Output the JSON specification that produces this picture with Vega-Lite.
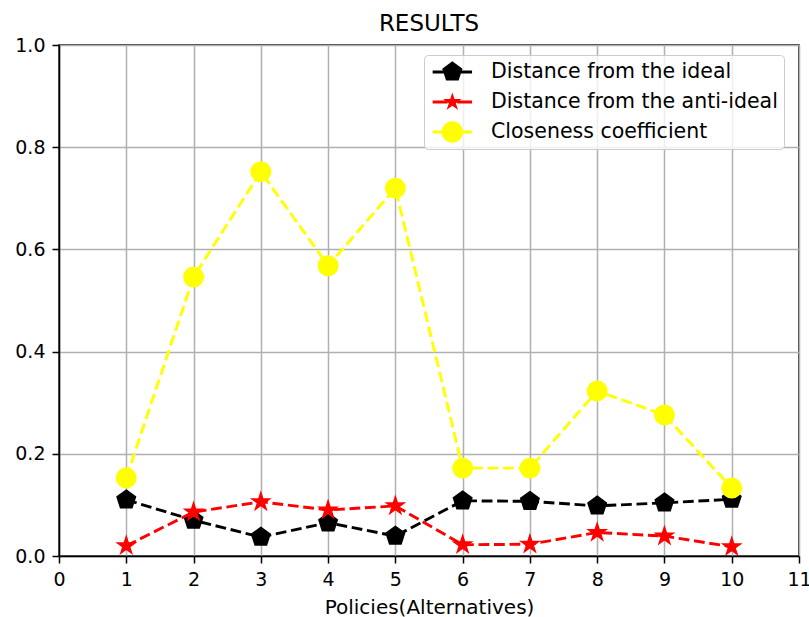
{
  "$schema": "https://vega.github.io/schema/vega-lite/v6.json",
  "width": 740,
  "height": 511,
  "autosize": {"type": "none"},
  "padding": {"left": 59, "top": 45, "right": 10, "bottom": 61},
  "background": "white",
  "title": {"text": "RESULTS", "fontSize": 23, "font": "DejaVu Sans", "fontWeight": "normal", "color": "black", "anchor": "middle", "offset": 0},
  "config": {
    "font": "DejaVu Sans",
    "view": {"stroke": "black", "strokeWidth": 1.5},
    "axis": {
      "domainColor": "black", "domainWidth": 1.5,
      "tickColor": "black", "tickWidth": 1.5, "tickSize": 7,
      "labelColor": "black", "labelFontSize": 19, "labelFont": "DejaVu Sans", "labelPadding": 7,
      "titleColor": "black", "titleFontSize": 20, "titleFont": "DejaVu Sans", "titleFontWeight": "normal",
      "gridColor": "#b0b0b0", "gridWidth": 1.5
    }
  },
  "data": {
    "values": [
      {"policy": 1, "series": "Distance from the ideal", "value": 0.110},
      {"policy": 2, "series": "Distance from the ideal", "value": 0.070},
      {"policy": 3, "series": "Distance from the ideal", "value": 0.037},
      {"policy": 4, "series": "Distance from the ideal", "value": 0.065},
      {"policy": 5, "series": "Distance from the ideal", "value": 0.039},
      {"policy": 6, "series": "Distance from the ideal", "value": 0.108},
      {"policy": 7, "series": "Distance from the ideal", "value": 0.107},
      {"policy": 8, "series": "Distance from the ideal", "value": 0.098},
      {"policy": 9, "series": "Distance from the ideal", "value": 0.104},
      {"policy": 10, "series": "Distance from the ideal", "value": 0.111},
      {"policy": 1, "series": "Distance from the anti-ideal", "value": 0.020},
      {"policy": 2, "series": "Distance from the anti-ideal", "value": 0.086},
      {"policy": 3, "series": "Distance from the anti-ideal", "value": 0.106},
      {"policy": 4, "series": "Distance from the anti-ideal", "value": 0.090},
      {"policy": 5, "series": "Distance from the anti-ideal", "value": 0.098},
      {"policy": 6, "series": "Distance from the anti-ideal", "value": 0.022},
      {"policy": 7, "series": "Distance from the anti-ideal", "value": 0.023},
      {"policy": 8, "series": "Distance from the anti-ideal", "value": 0.046},
      {"policy": 9, "series": "Distance from the anti-ideal", "value": 0.039},
      {"policy": 10, "series": "Distance from the anti-ideal", "value": 0.018},
      {"policy": 1, "series": "Closeness coefficient", "value": 0.153},
      {"policy": 2, "series": "Closeness coefficient", "value": 0.546},
      {"policy": 3, "series": "Closeness coefficient", "value": 0.752},
      {"policy": 4, "series": "Closeness coefficient", "value": 0.568},
      {"policy": 5, "series": "Closeness coefficient", "value": 0.720},
      {"policy": 6, "series": "Closeness coefficient", "value": 0.172},
      {"policy": 7, "series": "Closeness coefficient", "value": 0.172},
      {"policy": 8, "series": "Closeness coefficient", "value": 0.323},
      {"policy": 9, "series": "Closeness coefficient", "value": 0.276},
      {"policy": 10, "series": "Closeness coefficient", "value": 0.133}
    ]
  },
  "encoding": {
    "x": {"field": "policy", "type": "quantitative", "scale": {"domain": [0, 11], "nice": false, "zero": false},
          "axis": {"values": [0,1,2,3,4,5,6,7,8,9,10,11], "title": "Policies(Alternatives)", "titlePadding": 8, "labelFlush": false}},
    "y": {"field": "value", "type": "quantitative", "scale": {"domain": [0, 1], "nice": false},
          "axis": {"values": [0, 0.2, 0.4, 0.6, 0.8, 1.0], "format": ".1f", "title": null, "labelFlush": false}}
  },
  "layer": [
    {"transform": [{"filter": "datum.series === 'Distance from the ideal'"}],
     "mark": {"type": "line", "color": "black", "strokeWidth": 2.9, "strokeDash": [10.8, 4.7]}},
    {"transform": [{"filter": "datum.series === 'Distance from the ideal'"}],
     "mark": {"type": "point", "filled": true, "opacity": 1, "fill": "black", "stroke": "black", "strokeWidth": 1.5, "size": 376,
              "shape": "M0,-1L0.951,-0.309L0.588,0.809L-0.588,0.809L-0.951,-0.309Z"}},
    {"transform": [{"filter": "datum.series === 'Distance from the anti-ideal'"}],
     "mark": {"type": "line", "color": "#ff0000", "strokeWidth": 2.9, "strokeDash": [10.8, 4.7]}},
    {"transform": [{"filter": "datum.series === 'Distance from the anti-ideal'"}],
     "mark": {"type": "point", "filled": true, "opacity": 1, "fill": "#ff0000", "stroke": "#ff0000", "strokeWidth": 1.5, "size": 330,
              "shape": "M0,-1L0.2245,-0.309L0.951,-0.309L0.363,0.118L0.588,0.809L0,0.382L-0.588,0.809L-0.363,0.118L-0.951,-0.309L-0.2245,-0.309Z"}},
    {"transform": [{"filter": "datum.series === 'Closeness coefficient'"}],
     "mark": {"type": "line", "color": "#ffff00", "strokeWidth": 2.9, "strokeDash": [10.8, 4.7]}},
    {"transform": [{"filter": "datum.series === 'Closeness coefficient'"}],
     "mark": {"type": "point", "filled": true, "opacity": 1, "fill": "#ffff00", "stroke": "#ffff00", "strokeWidth": 1.5, "size": 376, "shape": "circle"}},
    {"transform": [{"filter": "false"}],
     "mark": {"type": "point", "filled": true, "opacity": 1},
     "encoding": {
       "x": null, "y": null,
       "shape": {"field": "series", "type": "nominal",
         "scale": {"domain": ["Distance from the ideal", "Distance from the anti-ideal", "Closeness coefficient"],
                   "range": [
                     "M-1.85,-0.136H-0.8V0.136H-1.85Z M0.8,-0.136H1.85V0.136H0.8Z M0,-1L0.951,-0.309L0.588,0.809L-0.588,0.809L-0.951,-0.309Z",
                     "M-1.85,-0.136H-0.45V0.136H-1.85Z M0.45,-0.136H1.85V0.136H0.45Z M0,-0.9L0.2,-0.28L0.856,-0.28L0.327,0.106L0.53,0.73L0,0.344L-0.53,0.73L-0.327,0.106L-0.856,-0.28L-0.2,-0.28Z",
                     "M-1.85,-0.136H-0.9V0.136H-1.85Z M0.9,-0.136H1.85V0.136H0.9Z M-1,0A1,1 0 1,1 1,0A1,1 0 1,1 -1,0Z"
                   ]},
         "legend": {"title": null, "orient": "none", "legendX": 365, "legendY": 10, "padding": 6,
                    "symbolSize": 454, "symbolOffset": 11.35, "labelOffset": 27.7, "symbolStrokeWidth": 0, "symbolOpacity": 1,
                    "labelFontSize": 20.5, "labelFont": "DejaVu Sans", "labelColor": "black", "labelLimit": 500, "rowPadding": 8,
                    "fillColor": "rgba(255,255,255,0.8)", "strokeColor": "#cccccc", "cornerRadius": 4}},
       "color": {"field": "series", "type": "nominal",
         "scale": {"domain": ["Distance from the ideal", "Distance from the anti-ideal", "Closeness coefficient"],
                   "range": ["black", "#ff0000", "#ffff00"]},
         "legend": {"title": null, "orient": "none", "legendX": 365, "legendY": 10, "padding": 6,
                    "symbolSize": 454, "symbolOffset": 11.35, "labelOffset": 27.7, "symbolStrokeWidth": 0, "symbolOpacity": 1,
                    "labelFontSize": 20.5, "labelFont": "DejaVu Sans", "labelColor": "black", "labelLimit": 500, "rowPadding": 8,
                    "fillColor": "rgba(255,255,255,0.8)", "strokeColor": "#cccccc", "cornerRadius": 4}}
     }}
  ]
}
